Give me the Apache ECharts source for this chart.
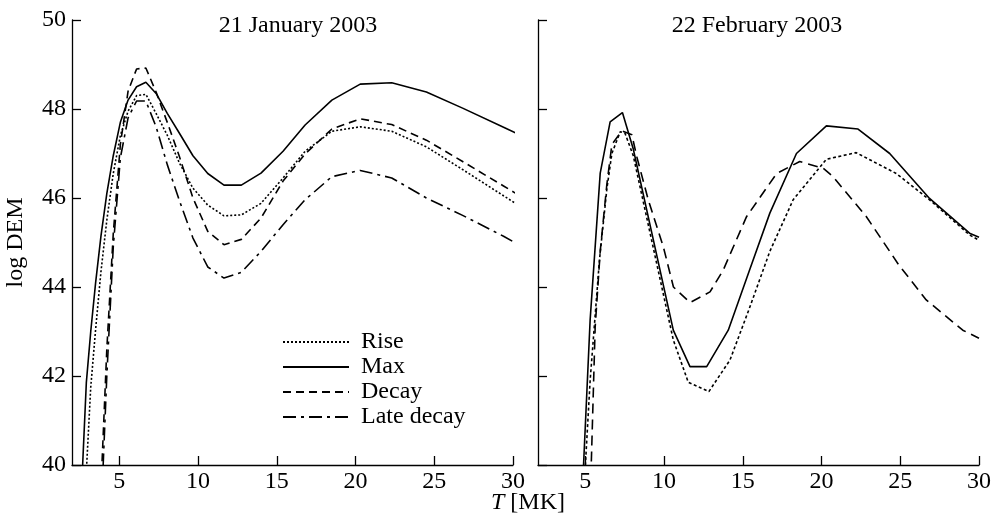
<!DOCTYPE html>
<html><head><meta charset="utf-8">
<script src="https://cdn.jsdelivr.net/npm/echarts@6/dist/echarts.min.js"></script>
<style>html,body{margin:0;padding:0;background:#fff}#c{width:995px;height:523px}</style>
</head><body><div id="c"></div>
<script>
// ---- Data: 21 January 2003 (left panel), shared temperature grid [MK]
const leftT      = [2.65, 2.91, 3.19, 3.50, 3.84, 4.21, 4.62, 5.07, 5.56, 6.10, 6.69, 7.34, 8.05, 8.83, 9.68, 10.62, 11.65, 12.75, 14.0, 15.4, 16.8, 18.5, 20.3, 22.3, 24.5, 26.8, 29.4, 32.2];
const leftRise   = [null, 39.85, 41.75, 43.05, 44.35, 45.5, 46.55, 47.4, 47.95, 48.3, 48.33, 47.9, 47.41, 46.78, 46.22, 45.84, 45.6, 45.62, 45.88, 46.45, 47.05, 47.5, 47.6, 47.5, 47.15, 46.64, 46.05, 45.42];
const leftMax    = [39.8, 41.85, 43.0, 44.1, 45.15, 46.1, 46.95, 47.7, 48.2, 48.5, 48.6, 48.35, 47.9, 47.45, 46.95, 46.55, 46.29, 46.29, 46.56, 47.05, 47.64, 48.2, 48.56, 48.59, 48.38, 48.02, 47.59, 47.12];
const leftDecay  = [null, null, null, null, 39.5, 42.6, 45.2, 47.2, 48.4, 48.9, 48.92, 48.38, 47.7, 46.92, 46.0, 45.25, 44.95, 45.07, 45.55, 46.38, 46.99, 47.55, 47.78, 47.65, 47.3, 46.82, 46.27, 45.67];
const leftLate   = [null, null, null, null, 38.8, 42.0, 44.9, 46.9, 47.8, 48.18, 48.18, 47.6, 46.75, 45.93, 45.1, 44.45, 44.2, 44.33, 44.8, 45.4, 45.96, 46.48, 46.62, 46.45, 46.0, 45.61, 45.14, 44.59];

// ---- Data: 22 February 2003 (right panel)
const rightMaxT   = [4.75, 5.31, 5.95, 6.58, 7.36, 8.05, 10.59, 11.65, 12.71, 14.08, 15.4, 16.72, 18.41, 20.31, 22.32, 24.33, 26.86, 29.4, 30.0];
const rightMaxV   = [38.9, 43.26, 46.56, 47.71, 47.92, 47.1, 43.03, 42.21, 42.21, 43.03, 44.35, 45.66, 47.0, 47.62, 47.55, 47.0, 45.99, 45.21, 45.12];
const rightRiseT  = [4.85, 5.31, 5.9, 6.37, 6.69, 7.22, 7.53, 8.05, 10.59, 11.54, 12.85, 14.19, 15.4, 16.72, 18.2, 20.31, 22.2, 24.75, 26.86, 29.4, 30.0];
const rightRiseV  = [39.0, 41.9, 44.6, 46.2, 47.0, 47.49, 47.45, 46.95, 42.81, 41.86, 41.65, 42.36, 43.5, 44.8, 45.96, 46.87, 47.02, 46.55, 45.96, 45.17, 45.05];
const rightDecayT = [5.3, 5.63, 5.95, 6.37, 6.69, 7.32, 7.96, 8.27, 9.0, 9.96, 10.6, 11.65, 12.92, 13.76, 15.24, 17.15, 18.62, 20.1, 20.73, 22.85, 24.9, 26.65, 28.97, 30.0];
const rightDecayV = [39.0, 43.1, 44.8, 46.3, 47.2, 47.51, 47.42, 46.93, 45.96, 44.9, 44.0, 43.65, 43.89, 44.38, 45.58, 46.55, 46.82, 46.67, 46.48, 45.58, 44.5, 43.71, 43.03, 42.85];

// ---- Axis ticks / labels
const xTickValues = [5, 10, 15, 20, 25, 30];
const seriesNames = ['Rise', 'Max', 'Decay', 'Late decay'];
const panelTitles = ['21 January 2003', '22 February 2003'];

const zip = (xs, ys) => xs.map((x, i) => [x, ys[i]]).filter(p => p[1] != null);

const FONT = 'Liberation Serif';
const black = '#000';

function xAxis(gi) {
  return {
    type: 'value', gridIndex: gi, min: 2, max: 30,
    axisLine: {show: true, lineStyle: {color: black, width: 1.3}},
    axisTick: {show: true, inside: true, length: 9, customValues: xTickValues, lineStyle: {color: black, width: 1.3}},
    axisLabel: {show: true, customValues: xTickValues, color: black, fontFamily: FONT, fontSize: 24, margin: 5},
    splitLine: {show: false}
  };
}
function yAxis(gi, labels) {
  return {
    type: 'value', gridIndex: gi, min: 40, max: 50, interval: 2,
    name: labels ? 'log DEM' : '', nameLocation: 'middle', nameGap: 44,
    nameTextStyle: {color: black, fontFamily: FONT, fontSize: 24},
    axisLine: {show: true, onZero: false, lineStyle: {color: black, width: 1.3}},
    axisTick: {show: true, inside: true, length: 9, lineStyle: {color: black, width: 1.3}},
    axisLabel: {show: labels, color: black, fontFamily: FONT, fontSize: 24, margin: 6},
    splitLine: {show: false}
  };
}
function line(name, gi, data, type, width) {
  return {
    name, type: 'line', xAxisIndex: gi, yAxisIndex: gi, data,
    symbol: 'none', showSymbol: false, clip: true, smooth: false,
    lineStyle: {color: black, width: width || 1.6, type: type},
    itemStyle: {color: black},
    emphasis: {disabled: true}, silent: true
  };
}

const chart = echarts.init(document.getElementById('c'), null, {renderer: 'canvas'});
chart.setOption({
  animation: false,
  backgroundColor: '#fff',
  grid: [
    {left: 72, top: 20, width: 441, height: 445},
    {left: 538, top: 20, width: 441, height: 445}
  ],
  title: [
    {text: panelTitles[0], left: 293, top: 9, textAlign: 'center',
     textStyle: {fontFamily: FONT, fontSize: 24, fontWeight: 'normal', color: black}},
    {text: panelTitles[1], left: 752, top: 9, textAlign: 'center',
     textStyle: {fontFamily: FONT, fontSize: 24, fontWeight: 'normal', color: black}},
    {text: '{i|T} [MK]', left: 523, top: 486, textAlign: 'center',
     textStyle: {fontFamily: FONT, fontSize: 24, fontWeight: 'normal', color: black,
       rich: {i: {fontFamily: FONT, fontSize: 24, fontStyle: 'italic', color: black}}}}
  ],
  legend: {
    data: seriesNames, orient: 'vertical', left: 277, top: 325,
    itemWidth: 66, itemHeight: 14, itemGap: 1,
    itemStyle: {opacity: 0},
    textStyle: {fontFamily: FONT, fontSize: 24, color: black, lineHeight: 24, padding: [0, 0, 0, 7]},
    selectedMode: false
  },
  xAxis: [xAxis(0), xAxis(1)],
  yAxis: [yAxis(0, true), yAxis(1, false)],
  series: [
    line('Rise', 0, zip(leftT, leftRise), [2, 2]),
    line('Max', 0, zip(leftT, leftMax), 'solid'),
    line('Decay', 0, zip(leftT, leftDecay), [8, 5]),
    line('Late decay', 0, zip(leftT, leftLate), [13, 5, 3, 5]),
    line('Max', 1, zip(rightMaxT, rightMaxV), 'solid'),
    line('Rise', 1, zip(rightRiseT, rightRiseV), [3, 2.5]),
    line('Decay', 1, zip(rightDecayT, rightDecayV), [10, 6])
  ]
});
</script></body></html>
